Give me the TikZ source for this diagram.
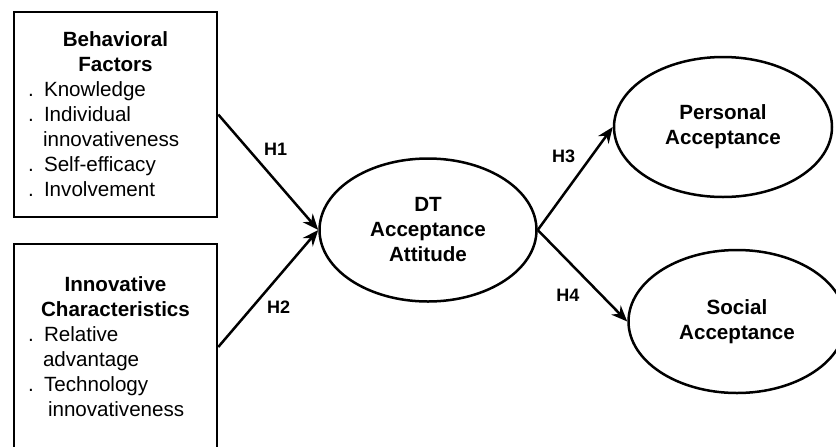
\documentclass[tikz,border=0pt]{standalone}
\usepackage{fontspec}
\setmainfont{Liberation Sans}
\usepackage{tikz}
\usetikzlibrary{shapes.geometric}
\usetikzlibrary{arrows.meta}

\newcommand{\idt}{\hspace*{7.5pt}}

\begin{document}
\begin{tikzpicture}[x=0.5pt,y=-0.5pt,
        every node/.style={font=\fontsize{10.3}{12.5}\selectfont},
        factor/.style={draw, line width=1.25pt, minimum width=101.5pt, text width=87.5pt, align=left, inner sep=0pt},
        latent/.style={draw, ellipse, line width=1.25pt, minimum width=108.5pt, minimum height=71.5pt, align=center, font=\fontsize{10.3}{12.5}\selectfont\bfseries},
        hyparrow/.style={line width=1.25pt, -{Stealth[length=8pt,width=6.5pt]}},
        hyp/.style={font=\fontsize{9}{11}\selectfont\bfseries}]
        %FRAME
        \useasboundingbox (0,0) rectangle (836,446);
        \clip (0,0) rectangle (836,446);
        %FACTORS
        \node[factor, minimum height=102.5pt] (bf) at (115.5,114.5) {{\centering\bfseries Behavioral\\Factors\par}. Knowledge\\. Individual\\\idt innovativeness\\. Self-efficacy\\. Involvement};
        \node[factor, minimum height=103pt] (ic) at (115.5,347) {{\centering\bfseries Innovative\\Characteristics\par}. Relative\\\idt advantage\\. Technology\\\hspace*{10pt}innovativeness};
        %LATENT
        \node[latent] (dt) at (428,230) {DT\\Acceptance\\Attitude};
        \node[latent, minimum width=109pt, minimum height=70pt] (pa) at (723,127) {Personal\\Acceptance};
        \node[latent] (sa) at (737,321.5) {Social\\Acceptance};
        %HYPOTHESES
        \draw[hyparrow] (bf.east) --node[hyp, pos=0.3, right=4pt]{H1} (dt.west);
        \draw[hyparrow] (ic.east) --node[hyp, pos=0.34, right=3.5pt]{H2} (dt.west);
        \draw[hyparrow] (dt.east) --node[hyp, pos=0.72, left=4.4pt]{H3} (pa.west);
        \draw[hyparrow] (dt.east) --node[hyp, pos=0.71, left=7pt]{H4} (sa.west);
    \end{tikzpicture}
\end{document}
